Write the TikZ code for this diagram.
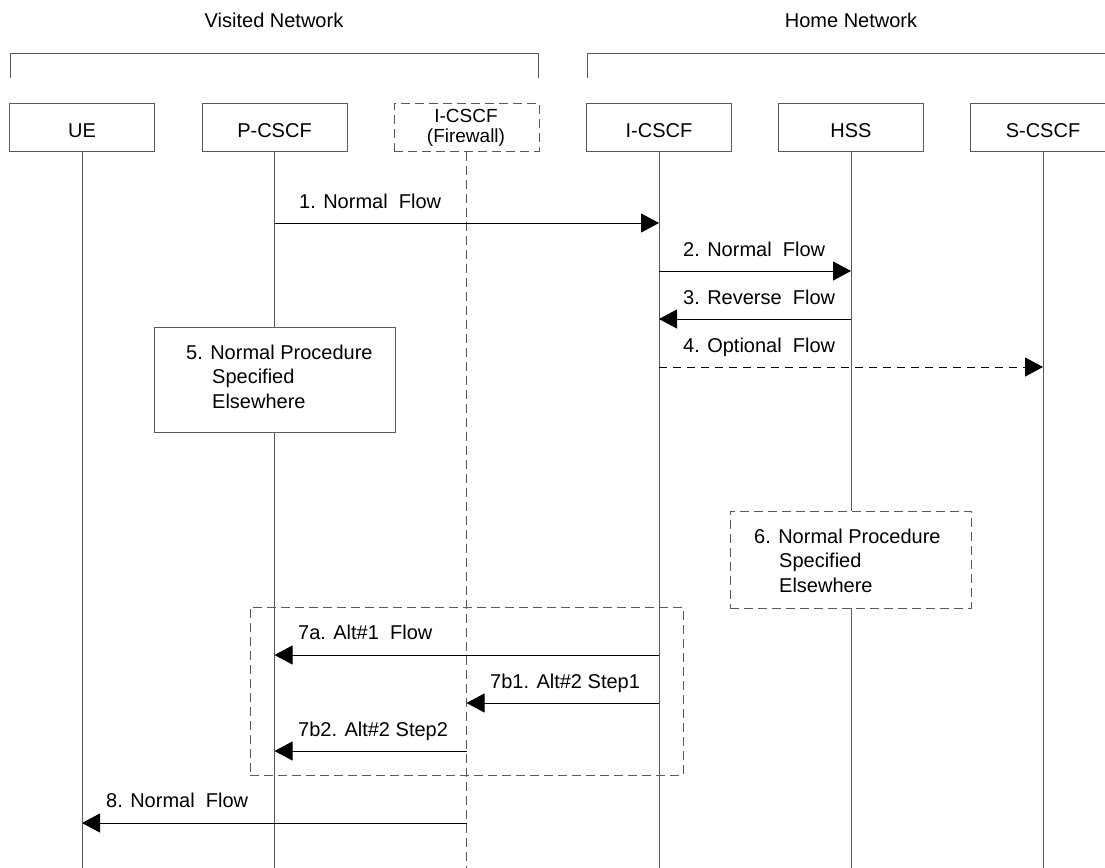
\documentclass[tikz,border=0pt]{standalone}
\usepackage{fontspec}
\setmainfont{Liberation Sans}
\usetikzlibrary{arrows.meta}
\begin{document}
\begin{tikzpicture}[x=1pt,y=-1pt,
  font=\fontsize{20}{24}\selectfont,
  ln/.style={draw=black!65, line width=1pt},
  ent/.style={ln, minimum width=145pt, minimum height=48pt, inner sep=0pt, text height=20pt, text depth=0pt},
  dsh/.style={dash pattern=on 9pt off 5pt},
  msg/.style={draw=black, line width=1pt, -{Triangle[length=18pt,width=19pt]}},
  lbl/.style={anchor=base west, inner sep=0pt},
  proc/.style={ln, inner sep=0pt, minimum width=241pt}]
\clip (0,0) rectangle (1105,867);
\fill[white] (0,0) rectangle (1105,867);

% network headings and brackets
\node[anchor=base, inner sep=0pt] (vn) at (274,28) {Visited Network};
\node[anchor=base, inner sep=0pt] (hn) at (851,28) {Home Network};
\draw[ln] (10,78) -- (10,54) -- (538,54) -- (538,78);
\draw[ln] (587,78) -- (587,54) -- (1110,54);

% entities
\node[ent] (ue) at (82,127) {UE};
\node[ent] (pcscf) at (274.5,127) {P-CSCF};
\node[ent, dsh] (fw) at (466.5,127) {};
\node[anchor=base, inner sep=0pt, font=\fontsize{19}{22}\selectfont] (fwt1) at (466,122) {I-CSCF};
\node[anchor=base, inner sep=0pt, font=\fontsize{19}{22}\selectfont] (fwt2) at (466,142) {(Firewall)};
\node[ent] (icscf) at (659,127) {I-CSCF};
\node[ent] (hss) at (851,127) {HSS};
\node[ent] (scscf) at (1043,127) {S-CSCF};

% lifelines
\coordinate (bot) at (0,870);
\draw[ln] (ue.south) -- (ue.south |- bot);
\draw[ln] (pcscf.south) -- (pcscf.south |- bot);
\draw[ln, dsh] (fw.south) -- (fw.south |- bot);
\draw[ln] (icscf.south) -- (icscf.south |- bot);
\draw[ln] (hss.south) -- (hss.south |- bot);
\draw[ln] (scscf.south) -- (scscf.south |- bot);

% message rows
\coordinate (y1) at (0,223);
\coordinate (y2) at (0,271);
\coordinate (y3) at (0,319);
\coordinate (y4) at (0,367);
\coordinate (y7a) at (0,655);
\coordinate (y7b1) at (0,703);
\coordinate (y7b2) at (0,751);
\coordinate (y8) at (0,823);

\draw[msg] (pcscf.south |- y1) -- (icscf.south |- y1);
\node[lbl] (l1) at (299,208) {1. Normal~~Flow};
\draw[msg] (icscf.south |- y2) -- (hss.south |- y2);
\node[lbl] (l2) at (683,256) {2. Normal~~Flow};
\draw[msg] (hss.south |- y3) -- (icscf.south |- y3);
\node[lbl] (l3) at (683,304) {3. Reverse~~Flow};
\draw[msg, dash pattern=on 8pt off 6pt] (icscf.south |- y4) -- (scscf.south |- y4);
\node[lbl] (l4) at (683,352) {4. Optional~~Flow};

% procedure 5
\node[proc, fill=white, minimum height=105pt] (p5) at (274.5,379.5) {};
\node[lbl] (p5a) at (186,359) {5. Normal Procedure};
\node[lbl] (p5b) at (212,383.5) {Specified};
\node[lbl] (p5c) at (212,408) {Elsewhere};

% procedure 6
\node[proc, dsh, fill=white, minimum height=97pt] (p6) at (850.5,559.5) {};
\node[lbl] (p6a) at (754,543) {6. Normal Procedure};
\node[lbl] (p6b) at (779,567.5) {Specified};
\node[lbl] (p6c) at (779,592) {Elsewhere};

% alternative group
\node[ln, dsh, inner sep=0pt, minimum width=433pt, minimum height=168pt] (alt) at (466.5,691) {};

\draw[msg] (icscf.south |- y7a) -- (pcscf.south |- y7a);
\node[lbl] (l7a) at (298,639) {7a. Alt\#1~~Flow};
\draw[msg] (icscf.south |- y7b1) -- (fw.south |- y7b1);
\node[lbl] (l7b1) at (490,688) {7b1. Alt\#2 Step1};
\draw[msg] (fw.south |- y7b2) -- (pcscf.south |- y7b2);
\node[lbl] (l7b2) at (298,736) {7b2. Alt\#2 Step2};
\draw[msg] (fw.south |- y8) -- (ue.south |- y8);
\node[lbl] (l8) at (106,807) {8. Normal~~Flow};
\end{tikzpicture}
\end{document}
